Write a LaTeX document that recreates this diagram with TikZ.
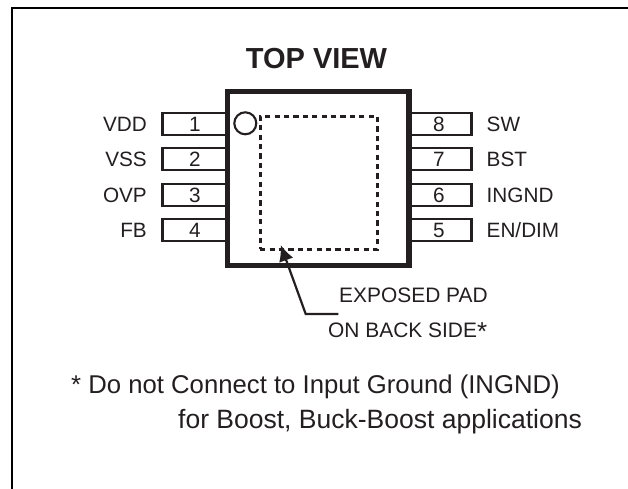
\documentclass[tikz,border=0pt]{standalone}
\usepackage{fontspec}
\setmainfont{Liberation Sans}
\usetikzlibrary{arrows.meta}
\definecolor{ink}{HTML}{231F20}
\tikzset{
  x=1bp,y=-1bp,
  frameline/.style={line width=2bp,black},
  pinbox/.style={draw=ink,line width=2.1bp,fill=white,minimum width=#1,minimum height=22bp,inner sep=0pt,text=ink},
  pinnum/.style={inner sep=0pt,anchor=base,text=ink,font=\fontsize{20.8}{24}\selectfont},
  pinlabelleft/.style={anchor=base east,inner sep=0pt,text=ink,font=\fontsize{20.8}{24}\selectfont},
  pinlabelright/.style={anchor=base west,inner sep=0pt,text=ink,font=\fontsize{20.8}{24}\selectfont},
  body/.style={draw=ink,line width=5.2bp,fill=white,minimum width=181.5bp,minimum height=174bp,inner sep=0pt},
  notch/.style={circle,draw=ink,line width=2.1bp,minimum size=22bp,inner sep=0pt},
  padbox/.style={draw=ink,line width=2.7bp,dash pattern=on 5.2bp off 4.2bp,minimum width=117.5bp,minimum height=132.5bp,inner sep=0pt},
  leader/.style={draw=ink,line width=2.2bp,-{Latex[length=16bp,width=15bp]}},
  note/.style={anchor=base west,inner sep=0pt,text=ink,font=\fontsize{21}{24}\selectfont}
}
\begin{document}
\begin{tikzpicture}
\useasboundingbox (0,0) rectangle (628,489);
\coordinate (fa) at (12,489);
\coordinate (fb) at (12,8);
\coordinate (fc) at (628,8);
\draw[frameline] (fa) -- (fb) -- (fc);
\node[anchor=base,inner sep=0pt,text=ink,font=\bfseries\fontsize{29.1}{32}\selectfont] (title) at (316.5,69) {TOP VIEW};
% pins
\foreach \n/\yy/\lab in {1/124/VDD,2/159.3/VSS,3/195/OVP,4/230/FB}{
  \node[pinbox=65bp] (p\n) at (195,\yy) {};
  \node[pinnum] (n\n) at (195,\yy+7.5) {\n};
  \node[pinlabelleft] (l\n) at (147,\yy+7.5) {\lab};
}
\foreach \n/\yy/\lab in {8/124/SW,7/159.3/BST,6/195/INGND,5/230/{EN/DIM}}{
  \node[pinbox=63bp] (p\n) at (440,\yy) {};
  \node[pinnum] (n\n) at (439,\yy+7.5) {\n};
  \node[pinlabelright] (l\n) at (486.5,\yy+7.5) {\lab};
}
\node[body] (pkg) at (318.25,178.5) {};
\node[notch] (dot) at (245.3,123.3) {};
\node[padbox] (pad) at (318.9,182.9) {};
\coordinate (tip) at (280.7,245);
\coordinate (knee) at (305.7,314);
\coordinate (tail) at (338.3,314);
\draw[leader] (tail) -- (knee) -- (tip);
\node[note] (ep) at (339,302) {EXPOSED PAD};
\node[note] (bs) at (328,337.7) {ON BACK SIDE\raisebox{-2.5bp}{\fontsize{26}{26}\selectfont *}};
\node[note,font=\fontsize{25.8}{28}\selectfont] (n1) at (71,393) {* Do not Connect to Input Ground (INGND)};
\node[note,font=\fontsize{26.6}{28}\selectfont] (n2) at (178,428) {for Boost, Buck-Boost applications};
\end{tikzpicture}
\end{document}
